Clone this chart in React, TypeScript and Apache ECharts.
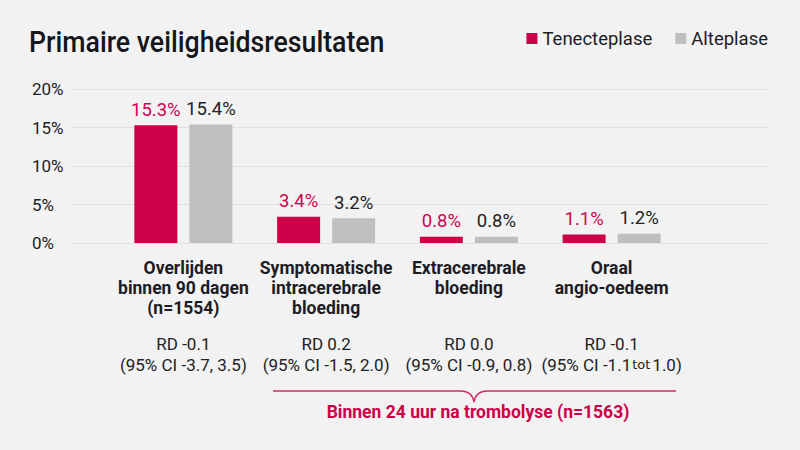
import React, { useEffect, useRef } from 'react';
import * as echarts from 'echarts';

// 数据
const CATEGORIES = [
  'Overlijden\nbinnen 90 dagen\n(n=1554)',
  'Symptomatische\nintracerebrale\nbloeding',
  'Extracerebrale\nbloeding',
  'Oraal\nangio-oedeem',
];
const RD_LABELS = ['RD -0.1', 'RD 0.2', 'RD 0.0', 'RD -0.1'];
const CI_LABELS = [
  '(95% CI -3.7, 3.5)',
  '(95% CI -1.5, 2.0)',
  '(95% CI -0.9, 0.8)',
  '(95% CI -1.1 tot 1.0)',
];
const TENECTEPLASE = [15.3, 3.4, 0.8, 1.1];
const ALTEPLASE = [15.4, 3.2, 0.8, 1.2];
const Y_TICKS = [0, 5, 10, 15, 20];

const RED = '#cc0049';
const GREY = '#bfbfbf';
const TEXT = '#1c1c24';

// accolade onder de laatste drie categorieën
echarts.graphic.registerShape(
  'brace',
  echarts.graphic.extendPath(
    'M0,0 L188,0 Q199,0 201,11 Q203,0 214,0 L403,0',
    {}
  )
);

const formatName = (name: string) => name.split('\n').map(l => `{b|${l}}`).join('\n');
const formatCi = (_: string, idx: number) => {
  const ci = CI_LABELS[idx];
  if (!ci.includes(' tot ')) return ci;
  const [a, b] = ci.split(' tot ');
  return `{r|${a}}{t|tot}{r|${b}}`;
};

// extra categorie-as voor de RD- en CI-regels
const textAxis = (margin: number, formatter: any, rich?: any) => ({
  type: 'category',
  gridIndex: 1,
  position: 'bottom',
  offset: 0,
  data: CATEGORIES,
  axisLine: { show: false },
  axisTick: { show: false },
  axisLabel: {
    interval: 0,
    margin,
    formatter,
    fontFamily: 'Roboto',
    fontSize: 17,
    color: '#222',
    rich,
  },
});

const App: React.FC = () => {
  const ref = useRef<HTMLDivElement>(null);

  useEffect(() => {
    if (!ref.current) return;
    const chart = echarts.init(ref.current, null, { renderer: 'svg' });

    chart.setOption({
      animation: false,
      backgroundColor: '#f2f2f2',
      textStyle: { fontFamily: 'Roboto' },
      legend: {
        right: 27,
        top: 24,
        icon: 'rect',
        itemWidth: 11,
        itemHeight: 11,
        itemGap: 23,
        textStyle: { fontSize: 18.5, color: TEXT },
        data: ['Tenecteplase', 'Alteplase'],
      },
      grid: [
        { left: 72, right: 32, top: 89, bottom: 207 },
        { left: 112, right: 117, top: 89, bottom: 207 },
      ],
      xAxis: [
        { type: 'value', gridIndex: 0, show: false, min: 0, max: 1 },
        {
          type: 'category',
          gridIndex: 1,
          data: CATEGORIES,
          axisLine: { show: false },
          axisTick: { show: false },
          axisLabel: {
            interval: 0,
            margin: 15,
            formatter: (v: string) => formatName(v),
            rich: {
              b: { fontFamily: 'Roboto', fontWeight: 'bold', fontSize: 17.5, lineHeight: 20, color: TEXT },
            },
          },
        },
        textAxis(92, (_: string, i: number) => RD_LABELS[i]),
        textAxis(113, formatCi, {
          r: { fontFamily: 'Roboto', fontSize: 17, color: '#222' },
          t: { fontFamily: 'DejaVu Sans', fontSize: 13, color: '#222', padding: [0, 2, 0, 1] },
        }),
      ],
      yAxis: [
        {
          type: 'value',
          gridIndex: 0,
          min: Y_TICKS[0],
          max: Y_TICKS[Y_TICKS.length - 1],
          interval: 5,
          axisLine: { show: false },
          axisTick: { show: false },
          splitLine: { lineStyle: { color: '#e0e0e0', width: 1 } },
          axisLabel: {
            formatter: '{value}%',
            align: 'left',
            margin: 40,
            fontSize: 17,
            color: '#222',
          },
        },
        {
          type: 'value',
          gridIndex: 1,
          min: Y_TICKS[0],
          max: Y_TICKS[Y_TICKS.length - 1],
          show: false,
          splitLine: { show: false },
        },
      ],
      series: [
        {
          name: 'Tenecteplase',
          type: 'bar',
          xAxisIndex: 1,
          yAxisIndex: 1,
          barWidth: 43,
          barGap: '28%',
          itemStyle: { color: RED },
          data: TENECTEPLASE,
          label: {
            show: true,
            position: 'top',
            distance: 6,
            fontSize: 18.5,
            color: '#d0024e',
            formatter: (p: any) => `${p.value.toFixed(1)}%`,
          },
        },
        {
          name: 'Alteplase',
          type: 'bar',
          xAxisIndex: 1,
          yAxisIndex: 1,
          barWidth: 43,
          itemStyle: { color: GREY },
          data: ALTEPLASE,
          label: {
            show: true,
            position: 'top',
            distance: 6,
            fontSize: 18.5,
            color: '#222',
            formatter: (p: any) => `${p.value.toFixed(1)}%`,
          },
        },
      ],
      graphic: [
        {
          type: 'text',
          x: 29,
          y: 42,
          scaleX: 0.89,
          style: {
            text: 'Primaire veiligheidsresultaten',
            fill: '#15151c',
            font: '500 30px Roboto',
            textVerticalAlign: 'middle',
          },
        },
        {
          type: 'brace',
          x: 273,
          y: 391,
          style: { stroke: '#d42a62', fill: 'none', lineWidth: 1.5 },
        },
        {
          type: 'text',
          x: 478,
          y: 412,
          style: {
            text: 'Binnen 24 uur na trombolyse (n=1563)',
            fill: RED,
            font: 'bold 17.5px Roboto',
            textAlign: 'center',
            textVerticalAlign: 'middle',
          },
        },
      ],
    });

    return () => {
      chart.dispose();
    };
  }, []);

  return (
    <div
      ref={ref}
      style={{ position: 'fixed', left: 0, top: 0, width: 800, height: 450 }}
    />
  );
};

export default App;
